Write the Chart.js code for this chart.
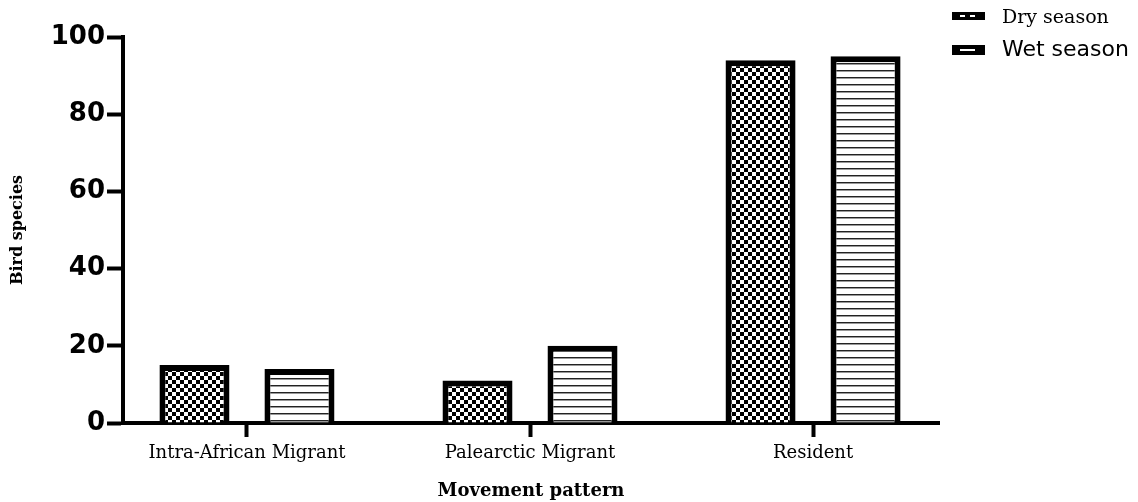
<!DOCTYPE html>
<html>
<head>
<meta charset="utf-8">
<script src="https://cdn.jsdelivr.net/npm/chart.js@4/dist/chart.umd.min.js"></script>
<style>
  html, body { margin: 0; padding: 0; background: #fff; }
  canvas { display: block; }
</style>
</head>
<body>
<canvas id="birdChart" width="1138" height="502"></canvas>
<script>
// ---- data ----
const categories = ['Intra-African Migrant', 'Palearctic Migrant', 'Resident'];
const drySeason = [15, 11, 94];
const wetSeason = [14, 20, 95];
const yTicks = [0, 20, 40, 60, 80, 100];
const seriesNames = ['Dry season', 'Wet season'];

// ---- fill patterns ----
function checkerPattern(ctx) {
    const c = document.createElement('canvas');
    c.width = 8; c.height = 8;
    const g = c.getContext('2d');
    g.fillStyle = '#fff';
    g.fillRect(0, 0, 8, 8);
    g.fillStyle = '#000';
    g.fillRect(0, 0, 4, 4);
    g.fillRect(4, 4, 4, 4);
    return ctx.createPattern(c, 'repeat');
}

function stripePattern(ctx) {
    const c = document.createElement('canvas');
    c.width = 8; c.height = 7;
    const g = c.getContext('2d');
    g.fillStyle = '#fff';
    g.fillRect(0, 0, 8, 7);
    g.fillStyle = '#222';
    g.fillRect(0, 0, 8, 1);
    g.fillStyle = '#999';
    g.fillRect(0, 1, 8, 1);
    return ctx.createPattern(c, 'repeat');
}

const canvas = document.getElementById('birdChart');
const ctx = canvas.getContext('2d');

const positions = categories.map((c, i) => i);
const toPoints = (vals) => vals.map((v, i) => ({ x: positions[i], y: v }));

// custom legend at the top right (two different fonts, as in the figure)
const legendPlugin = {
    id: 'cornerLegend',
    afterDraw(chart) {
        const c = chart.ctx;
        c.save();
        // Dry season
        c.fillStyle = '#000';
        c.fillRect(952, 12, 33, 8);
        c.fillStyle = '#fff';
        c.fillRect(960, 15, 5, 2);
        c.fillRect(970, 15, 5, 2);
        c.fillStyle = '#000';
        c.font = '19px "DejaVu Serif"';
        c.textBaseline = 'alphabetic';
        c.fillText(seriesNames[0], 1002, 23);
        // Wet season
        c.fillRect(952, 45, 33, 10);
        c.fillStyle = '#fff';
        c.fillRect(960, 49, 15, 2);
        c.fillStyle = '#000';
        c.font = '22px "DejaVu Sans"';
        c.fillText(seriesNames[1], 1002, 56);
        c.restore();
    }
};

const chart = new Chart(ctx, {
    type: 'bar',
    data: {
        datasets: [
            {
                label: seriesNames[0],
                data: toPoints(drySeason),
                backgroundColor: checkerPattern(ctx),
                borderColor: '#000',
                borderWidth: 6,
                categoryPercentage: 0.742,
                barPercentage: 0.667
            },
            {
                label: seriesNames[1],
                data: toPoints(wetSeason),
                backgroundColor: stripePattern(ctx),
                borderColor: '#000',
                borderWidth: 6,
                categoryPercentage: 0.742,
                barPercentage: 0.667
            }
        ]
    },
    options: {
        responsive: false,
        animation: false,
        layout: { padding: { left: 0, right: 199, top: 37, bottom: 0 } },
        plugins: {
            legend: { display: false },
            tooltip: { enabled: false }
        },
        scales: {
            x: {
                type: 'linear',
                offset: false,
                min: -0.438,
                max: 2.445,
                afterBuildTicks(scale) {
                    scale.ticks = positions.map(v => ({ value: v }));
                },
                afterFit(scale) { scale.height = 79; },
                border: { display: true, color: '#000', width: 4 },
                grid: {
                    offset: false,
                    drawOnChartArea: false,
                    drawTicks: true,
                    tickLength: 14,
                    tickWidth: 4,
                    tickColor: '#000'
                },
                ticks: {
                    padding: 6,
                    color: '#000',
                    maxRotation: 0,
                    font: { family: '"DejaVu Serif"', size: 18 },
                    callback: (v) => categories[v]
                },
                title: {
                    display: true,
                    text: 'Movement pattern',
                    color: '#000',
                    padding: { top: 0, bottom: 0 },
                    font: { family: '"DejaVu Serif"', size: 18, weight: 'bold' }
                }
            },
            y: {
                min: 0,
                max: 100,
                afterBuildTicks(scale) {
                    scale.ticks = yTicks.map(v => ({ value: v }));
                },
                afterFit(scale) { scale.width = 123; },
                border: { display: true, color: '#000', width: 4 },
                grid: {
                    drawOnChartArea: false,
                    drawTicks: true,
                    tickLength: 16,
                    tickWidth: 4,
                    tickColor: '#000'
                },
                ticks: {
                    padding: 2,
                    color: '#000',
                    font: { family: '"DejaVu Sans"', size: 26, weight: 'bold' }
                },
                title: {
                    display: true,
                    text: 'Bird species',
                    color: '#000',
                    padding: { top: 8, bottom: 0 },
                    font: { family: '"DejaVu Serif"', size: 16, weight: 'bold' }
                }
            }
        }
    },
    plugins: [legendPlugin]
});
</script>
</body>
</html>
